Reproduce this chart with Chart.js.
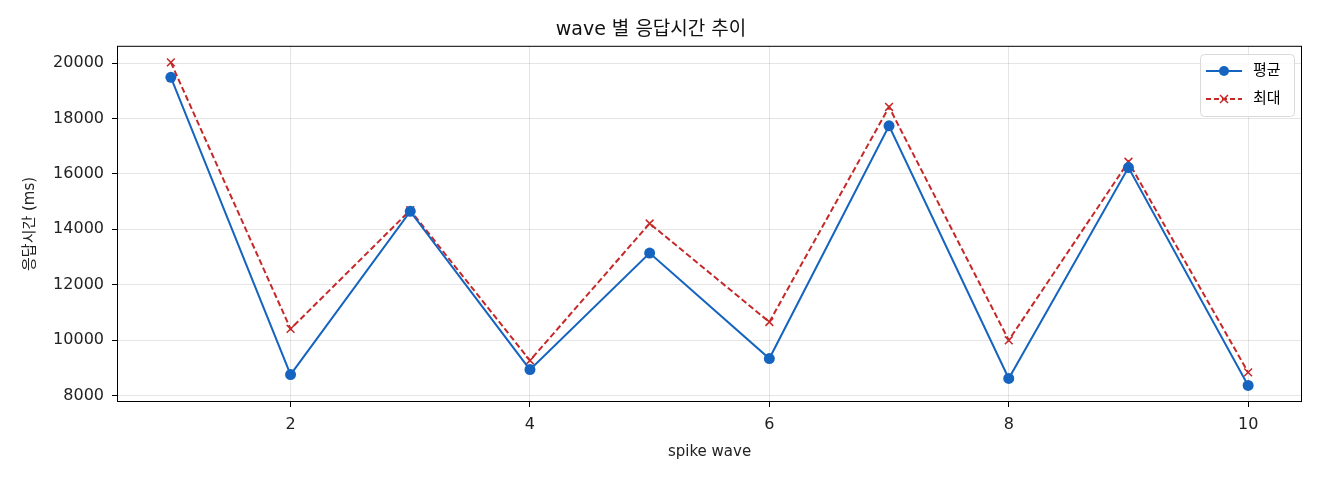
<!DOCTYPE html>
<html>
<head>
<meta charset="utf-8">
<script src="https://cdn.jsdelivr.net/npm/chart.js@4"></script>
<style>
  html, body { margin: 0; padding: 0; background: #fff; }
  #wrap { width: 1320px; height: 480px; }
</style>
</head>
<body>
<div id="wrap"><canvas id="chart"></canvas></div>
<script>
const waves = [1, 2, 3, 4, 5, 6, 7, 8, 9, 10];
const avgMs = [19490, 8750, 14650, 8930, 13140, 9330, 17740, 8610, 16230, 8360];
const maxMs = [20030, 10400, 14690, 9260, 14210, 10650, 18420, 9990, 16440, 8830];
const xTicks = [2, 4, 6, 8, 10];
const yTicks = [8000, 10000, 12000, 14000, 16000, 18000, 20000];

const FONT = "'DejaVu Sans', 'Noto Sans CJK KR', sans-serif";
const BLUE = '#1565c0';
const RED = '#c62828';

const pts = (ys) => waves.map((w, i) => ({ x: w, y: ys[i] }));

// matplotlib-style frame + in-axes legend
const framePlugin = {
    id: 'frame',
    afterDraw(chart) {
        const { ctx, chartArea: a } = chart;
        ctx.save();
        ctx.strokeStyle = '#000';
        ctx.lineWidth = 1;
        ctx.strokeRect(a.left + 0.5, a.top + 0.5, a.right - a.left - 1, a.bottom - a.top - 1);

        // legend box
        const bx = 1200, by = 54, bw = 94, bh = 62;
        ctx.fillStyle = 'rgba(255,255,255,0.8)';
        ctx.strokeStyle = '#d9d9d9';
        ctx.beginPath();
        ctx.roundRect(bx + 0.5, by + 0.5, bw, bh, 4);
        ctx.fill();
        ctx.stroke();

        const rows = [
            { label: '평균', color: BLUE, dash: [], y: by + 17 },
            { label: '최대', color: RED, dash: [5, 3], y: by + 45 }
        ];
        rows.forEach((r, i) => {
            ctx.strokeStyle = r.color;
            ctx.lineWidth = 2;
            ctx.setLineDash(r.dash);
            ctx.beginPath();
            ctx.moveTo(bx + 6, r.y);
            ctx.lineTo(bx + 42, r.y);
            ctx.stroke();
            ctx.setLineDash([]);
            if (i === 0) {
                ctx.fillStyle = r.color;
                ctx.beginPath();
                ctx.arc(bx + 24, r.y, 5, 0, Math.PI * 2);
                ctx.fill();
            } else {
                ctx.lineWidth = 1.5;
                ctx.beginPath();
                ctx.moveTo(bx + 20, r.y - 4); ctx.lineTo(bx + 28, r.y + 4);
                ctx.moveTo(bx + 28, r.y - 4); ctx.lineTo(bx + 20, r.y + 4);
                ctx.stroke();
            }
            ctx.fillStyle = '#000';
            ctx.font = '15px ' + FONT;
            ctx.textBaseline = 'middle';
            ctx.fillText(r.label, bx + 53, r.y);
        });
        ctx.restore();
    }
};

new Chart(document.getElementById('chart'), {
    type: 'line',
    data: {
        datasets: [
            {
                label: '평균',
                data: pts(avgMs),
                borderColor: BLUE,
                backgroundColor: BLUE,
                borderWidth: 2,
                pointStyle: 'circle',
                pointRadius: 5.5,
                pointBorderWidth: 0,
                tension: 0
            },
            {
                label: '최대',
                data: pts(maxMs),
                borderColor: RED,
                backgroundColor: RED,
                borderWidth: 2,
                borderDash: [6, 3],
                pointStyle: 'crossRot',
                pointRadius: 5.5,
                pointBorderWidth: 1.5,
                tension: 0
            }
        ]
    },
    options: {
        responsive: true,
        maintainAspectRatio: false,
        animation: false,
        layout: { padding: { left: 0, right: 18, top: 0, bottom: 0 } },
        scales: {
            x: {
                type: 'linear',
                min: 0.55,
                max: 10.45,
                afterBuildTicks: (s) => { s.ticks = xTicks.map(v => ({ value: v })); },
                afterFit: (s) => { s.height = 78; },
                grid: { color: 'rgba(0,0,0,0.1)', tickLength: 5, tickColor: '#000' },
                border: { display: false },
                ticks: { color: '#222', font: { family: FONT, size: 16 }, padding: 8, callback: (v) => String(v) },
                title: {
                    display: true,
                    text: 'spike wave',
                    color: '#222',
                    font: { family: FONT, size: 15 },
                    padding: { top: 0, bottom: 19 }
                }
            },
            y: {
                min: 7760,
                max: 20630,
                afterBuildTicks: (s) => { s.ticks = yTicks.map(v => ({ value: v })); },
                afterFit: (s) => { s.width = 117; },
                grid: { color: 'rgba(0,0,0,0.1)', tickLength: 5, tickColor: '#000' },
                border: { display: false },
                ticks: { color: '#222', font: { family: FONT, size: 16 }, padding: 8, callback: (v) => String(v) },
                title: {
                    display: true,
                    text: '응답시간 (ms)',
                    color: '#222',
                    font: { family: FONT, size: 15 },
                    padding: { top: 21, bottom: 0 }
                }
            }
        },
        plugins: {
            legend: { display: false },
            tooltip: { enabled: false },
            title: {
                display: true,
                text: 'wave 별 응답시간 추이',
                color: '#111',
                font: { family: FONT, size: 19, weight: 'normal' },
                padding: { top: 19, bottom: 4 }
            }
        }
    },
    plugins: [framePlugin]
});
</script>
</body>
</html>
